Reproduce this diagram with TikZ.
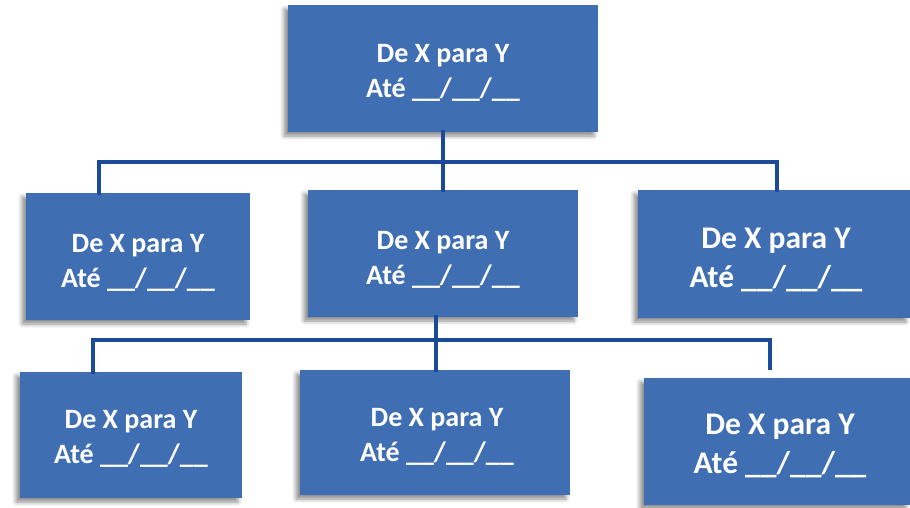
\documentclass[tikz,border=0pt]{standalone}
\usepackage{fontspec}
\setmainfont{Carlito}
\usetikzlibrary{shadows.blur}
\definecolor{boxblue}{RGB}{63,110,179}
\definecolor{lineblue}{RGB}{28,74,155}
\tikzset{
  box/.style={fill=boxblue, draw=none, inner sep=0pt,
    blur shadow={shadow xshift=-4pt, shadow yshift=-4pt, shadow blur radius=4pt, shadow opacity=45}},
  txt/.style={text=white, align=center, inner sep=0pt,
    font=\bfseries\fontsize{28}{35}\selectfont},
  bigtxt/.style={txt, font=\bfseries\fontsize{31.5}{39}\selectfont},
  conn/.style={draw=lineblue, line width=3.6pt, line cap=rect}
}
\newcommand{\dline}{De X para Y\\Até \_\_/\_\_/\_\_}
\begin{document}
\begin{tikzpicture}[x=1pt,y=-1pt]
\useasboundingbox (0,0) rectangle (910,507);
% top
\node[box, minimum width=310pt, minimum height=127pt] (top) at (443,68.5) {};
\node[txt] (topt) at (443,73) {\dline};
% middle row
\node[box, minimum width=224pt, minimum height=127pt] (ml) at (138,256.5) {};
\node[txt] (mlt) at (138,262.5) {\dline};
\node[box, minimum width=270pt, minimum height=127pt] (mm) at (443,253.5) {};
\node[txt] (mmt) at (443,259.5) {\dline};
\node[box, minimum width=272pt, minimum height=128pt] (mr) at (774,254) {};
\node[bigtxt] (mrt) at (776,260) {\dline};
% bottom row
\node[box, minimum width=222pt, minimum height=126pt] (bl) at (131,435) {};
\node[txt] (blt) at (131,438.5) {\dline};
\node[box, minimum width=270pt, minimum height=125pt] (bm) at (435,432.5) {};
\node[txt] (bmt) at (437,437) {\dline};
\node[box, minimum width=266pt, minimum height=127pt] (br) at (777,441.5) {};
\node[bigtxt] (brt) at (780,446) {\dline};
% connectors level 1
\coordinate (j1) at (443,162);
\coordinate (j1l) at (99,162);
\coordinate (j1r) at (777,162);
\draw[conn] (top.south) -- (j1);
\draw[conn] (j1l |- ml.north) -- (j1l) -- (j1r) -- (j1r |- mr.north);
\draw[conn] (j1) -- (mm.north);
% connectors level 2
\coordinate (j2) at (436,340);
\coordinate (j2l) at (93,340);
\coordinate (j2r) at (770,340);
\coordinate (j2re) at (770,368);
\draw[conn] (j2 |- mm.south) -- (j2);
\draw[conn] (j2l |- bl.north) -- (j2l) -- (j2r) -- (j2re);
\draw[conn] (j2) -- (j2 |- bm.north);
\end{tikzpicture}
\end{document}
